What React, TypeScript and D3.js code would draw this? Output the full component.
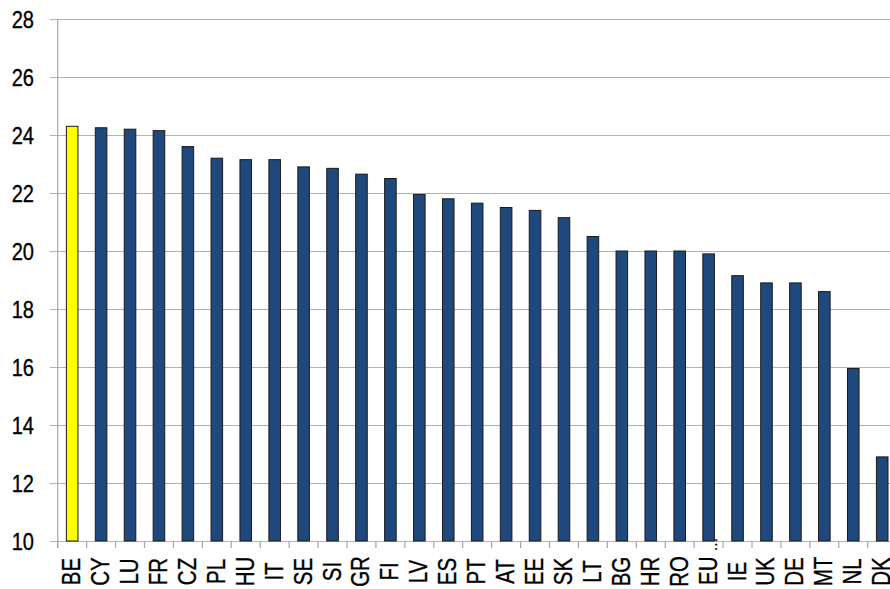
import React from "react";
import * as d3 from "d3";

const categories = ["BE","CY","LU","FR","CZ","PL","HU","IT","SE","SI","GR","FI","LV","ES","PT","AT","EE","SK","LT","BG","HR","RO","EU…","IE","UK","DE","MT","NL","DK"];
const values = [24.3,24.25,24.2,24.15,23.6,23.2,23.15,23.15,22.9,22.85,22.65,22.5,21.95,21.8,21.65,21.5,21.4,21.15,20.5,20.0,20.0,20.0,19.9,19.15,18.9,18.9,18.6,15.95,12.9];
const highlight = ["BE"];
const yTicks = [10,12,14,16,18,20,22,24,26,28];

const W = 890, H = 589;
const left = 57.7, top = 19, bottom = 541;
const step = 28.93;
const NARROW = 0.82;

export default function App() {
  const y = d3.scaleLinear().domain([10, 28]).range([bottom, top]);
  const x = d3.scaleBand<string>().domain(categories)
    .range([left, left + step * categories.length])
    .paddingInner(0.6).paddingOuter(0.3);
  const st = x.step();
  const font = "'Liberation Sans', Arial, sans-serif";
  const textStyle = { stroke: "#000", strokeWidth: 0.35 };
  return (
    <svg width={W} height={H} style={{ position: "absolute", left: 0, top: 0, background: "#fff" }}>
      {yTicks.map(t => (
        <g key={t}>
          <line x1={50} x2={W} y1={Math.round(y(t)) + 0.5} y2={Math.round(y(t)) + 0.5} stroke="#b3b3b3" strokeWidth={1.2} />
          <text transform={`translate(34,${y(t)}) scale(${NARROW},1)`} dy="0.36em" textAnchor="end"
            fontFamily={font} fontSize={24.5} fill="#000" style={textStyle}>{t}</text>
        </g>
      ))}
      <line x1={left} x2={left} y1={top} y2={bottom + 7} stroke="#a6a6a6" strokeWidth={1.2} />
      {categories.map((c, i) => {
        const bx = x(c)! - st * 0.3;
        return <line key={"t" + i} x1={bx} x2={bx} y1={bottom} y2={bottom + 7} stroke="#a6a6a6" strokeWidth={1.2} />;
      })}
      {categories.map((c, i) => (
        <rect key={c} x={x(c)!} y={y(values[i])} width={x.bandwidth()} height={y(10) - y(values[i])}
          fill={highlight.includes(c) ? "#ffff00" : "#1f497d"} stroke="#1a1a1a" strokeWidth={1} />
      ))}
      {categories.map(c => {
        const cx = x(c)! + x.bandwidth() / 2;
        if (c.endsWith("…")) {
          return (
            <text key={"l" + c} transform={`translate(${cx + 8},585) rotate(-90) scale(${NARROW},1)`} textAnchor="start"
              fontFamily={font} fontSize={25} fill="#000" style={textStyle}>
              {c.slice(0, -1)}
              <tspan dx={6} fontSize={17}>…</tspan>
            </text>
          );
        }
        return (
          <text key={"l" + c} transform={`translate(${cx + 8},571.5) rotate(-90) scale(${NARROW},1)`} textAnchor="middle"
            fontFamily={font} fontSize={25} fill="#000" style={textStyle}>{c}</text>
        );
      })}
    </svg>
  );
}
